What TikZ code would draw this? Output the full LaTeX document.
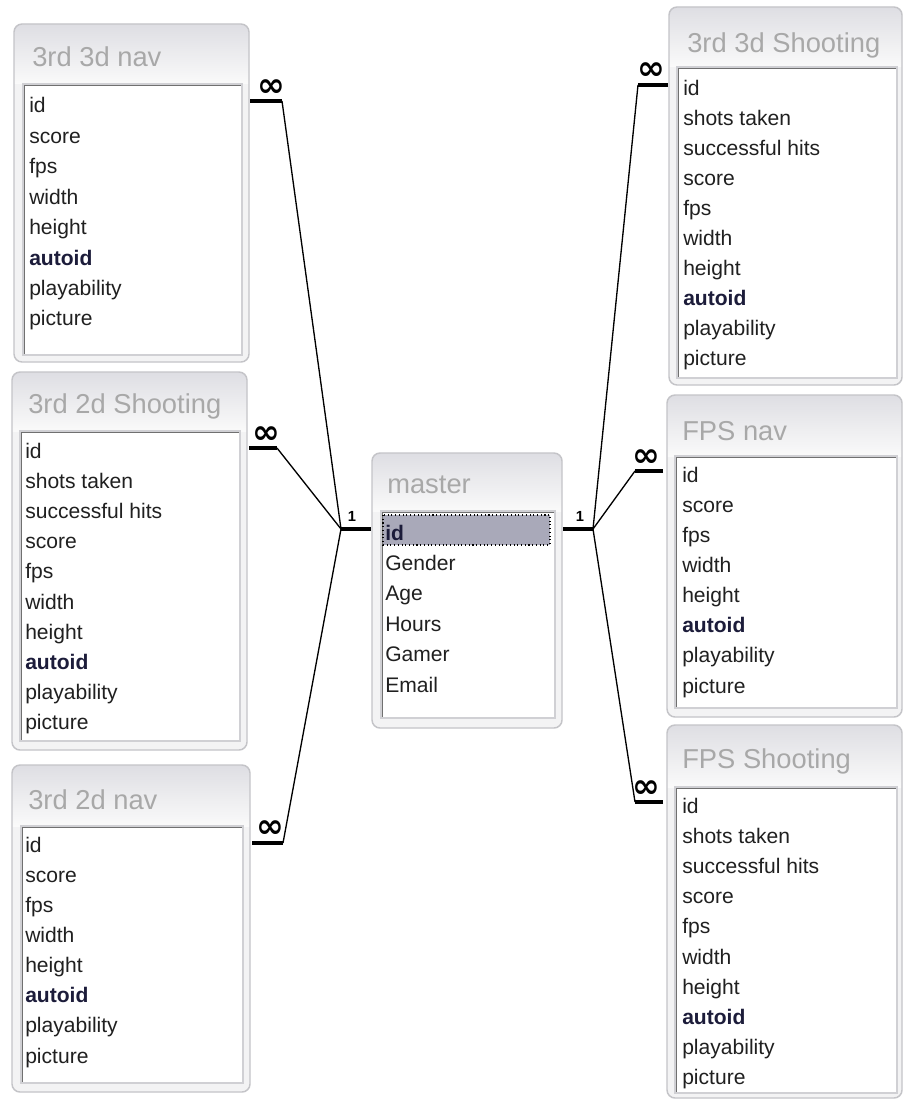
\documentclass[tikz,border=0pt]{standalone}
\usepackage{fontspec}
\setmainfont{Liberation Sans}
\newfontfamily\symfont{DejaVu Sans}
\definecolor{framec}{HTML}{C4C4C8}
\definecolor{framefill}{HTML}{F3F3F4}
\definecolor{hdrtop}{HTML}{DEDEE3}
\definecolor{hdrbot}{HTML}{FAFAFA}
\definecolor{innerdark}{HTML}{707070}
\definecolor{innerlight}{HTML}{D0D0D4}
\definecolor{titlec}{HTML}{A8A8A8}
\definecolor{rowc}{HTML}{202020}
\definecolor{keyc}{HTML}{1C1C3A}
\definecolor{selc}{HTML}{A9A9B9}
\newcommand{\rowfont}{\fontsize{15.8pt}{18pt}\selectfont}
\newcommand{\titlefont}{\fontsize{20.5pt}{24pt}\selectfont}
\newcommand{\manyfont}{\symfont\bfseries\fontsize{25pt}{26pt}\selectfont}
\newcommand{\onefont}{\bfseries\fontsize{11pt}{12pt}\selectfont}
\newcommand{\keyf}[1]{\textbf{\color{keyc}#1}}
% #1 x1 #2 y1 #3 x2 #4 y2 #5 ix1 #6 iy1 #7 ix2 #8 iy2
\newcommand{\dbframe}[8]{%
  \fill[framefill,rounded corners=6pt] (#1,#2) rectangle (#3,#4);
  \begin{scope}
    \clip[rounded corners=6pt] (#1,#2) rectangle (#3,#4);
    \shade[top color=hdrtop,bottom color=hdrbot] (#1,#2) rectangle (#3,#6);
  \end{scope}
  \draw[framec,line width=1.1pt,rounded corners=6pt] (#1,#2) rectangle (#3,#4);
  \fill[white] (#5,#6) rectangle (#7,#8);
  \draw[innerlight,line width=1pt] (#5,#6) rectangle (#7,#8);
  \draw[innerdark,line width=1.1pt] ({#5+1.5},{#8-1.5}) -- ({#5+1.5},{#6+1.5}) -- ({#7-1.5},{#6+1.5});
}
\begin{document}
\begin{tikzpicture}[x=0.75pt,y=-0.75pt,
  rowtext/.style={anchor=base west,inner sep=0pt,text=rowc,font=\rowfont},
  titletext/.style={anchor=base west,inner sep=0pt,text=titlec,font=\titlefont},
  stub/.style={line width=3pt,line cap=butt},
  conn/.style={line width=1pt},
  manylabel/.style={inner sep=0pt,font=\manyfont},
  onelabel/.style={inner sep=0pt,font=\onefont}]
\useasboundingbox[fill=white] (0,0) rectangle (903,1099);

% ---------- 3rd 3d nav ----------
\dbframe{14}{24}{249}{362}{23}{84}{242}{355}
\node[titletext] (t1title) at (32,67) {3rd 3d nav};
\foreach \t [count=\i from 0] in {id,score,fps,width,height,\keyf{autoid},playability,picture}
  \node[rowtext] (t1r\i) at (29,{113+\i*30.4}) {\t};

% ---------- 3rd 2d Shooting ----------
\dbframe{12}{372}{247}{750}{20}{431}{240}{741}
\node[titletext] (t2title) at (28,413) {3rd 2d Shooting};
\foreach \t [count=\i from 0] in {id,shots taken,successful hits,score,fps,width,height,\keyf{autoid},playability,picture}
  \node[rowtext] (t2r\i) at (25,{458+\i*30.2}) {\t};

% ---------- 3rd 2d nav ----------
\dbframe{12}{765}{250}{1092}{21}{826}{243}{1083}
\node[titletext] (t3title) at (28,809) {3rd 2d nav};
\foreach \t [count=\i from 0] in {id,score,fps,width,height,\keyf{autoid},playability,picture}
  \node[rowtext] (t3r\i) at (25,{852+\i*30.15}) {\t};

% ---------- master ----------
\dbframe{372}{453}{562}{728}{381}{511}{555}{718}
\node[titletext] (mtitle) at (387,493) {master};
\fill[selc] (383,515) rectangle (550,545);
\draw[black,dotted,line width=0.8pt] (383,515) rectangle (550,545);
\foreach \t [count=\i from 0] in {\keyf{id},Gender,Age,Hours,Gamer,Email}
  \node[rowtext] (mr\i) at (385,{540+\i*30.4}) {\t};

% ---------- 3rd 3d Shooting ----------
\dbframe{669}{7}{902}{385}{677}{67}{897}{378}
\node[titletext] (r1title) at (687,53) {3rd 3d Shooting};
\foreach \t [count=\i from 0] in {id,shots taken,successful hits,score,fps,width,height,\keyf{autoid},playability,picture}
  \node[rowtext] (r1r\i) at (683,{95+\i*30}) {\t};

% ---------- FPS nav ----------
\dbframe{667}{395}{902}{717}{675}{456}{897}{708}
\node[titletext] (r2title) at (682,440) {FPS nav};
\foreach \t [count=\i from 0] in {id,score,fps,width,height,\keyf{autoid},playability,picture}
  \node[rowtext] (r2r\i) at (682,{482+\i*30.15}) {\t};

% ---------- FPS Shooting ----------
\dbframe{667}{725}{902}{1098}{675}{787}{897}{1093}
\node[titletext] (r3title) at (682,768) {FPS Shooting};
\foreach \t [count=\i from 0] in {id,shots taken,successful hits,score,fps,width,height,\keyf{autoid},playability,picture}
  \node[rowtext] (r3r\i) at (682,{813+\i*30.2}) {\t};

% ---------- connector points ----------
\coordinate (jl) at (341,529);
\coordinate (jlm) at (371,529);
\coordinate (jr) at (593,529);
\coordinate (jrm) at (563,529);

\coordinate (t1a) at (250,101); \coordinate (t1b) at (282,101);
\coordinate (t2a) at (249,448); \coordinate (t2b) at (277,448);
\coordinate (t3a) at (252,843); \coordinate (t3b) at (283,843);
\coordinate (r1a) at (668,85);  \coordinate (r1b) at (638,85);
\coordinate (r2a) at (663,471); \coordinate (r2b) at (635,471);
\coordinate (r3a) at (663,802); \coordinate (r3b) at (635,802);

% thin connector lines
\draw[conn] (t1b) -- (jl);
\draw[conn] (t2b) -- (jl);
\draw[conn] (t3b) -- (jl);
\draw[conn] (r1b) -- (jr);
\draw[conn] (r2b) -- (jr);
\draw[conn] (r3b) -- (jr);

% thick stubs
\draw[stub] (jl) -- (jlm);
\draw[stub] (jrm) -- (jr);
\draw[stub] (t1a) -- (t1b);
\draw[stub] (t2a) -- (t2b);
\draw[stub] (t3a) -- (t3b);
\draw[stub] (r1a) -- (r1b);
\draw[stub] (r2a) -- (r2b);
\draw[stub] (r3a) -- (r3b);

% labels
\node[onelabel] (l1) at (352,516) {1};
\node[onelabel] (r1) at (580,516) {1};
\node[manylabel] (m1) at (271,88) {∞};
\node[manylabel] (m2) at (266,435) {∞};
\node[manylabel] (m3) at (270,829) {∞};
\node[manylabel] (m4) at (651,71) {∞};
\node[manylabel] (m5) at (646,458) {∞};
\node[manylabel] (m6) at (646,789) {∞};
\end{tikzpicture}
\end{document}
